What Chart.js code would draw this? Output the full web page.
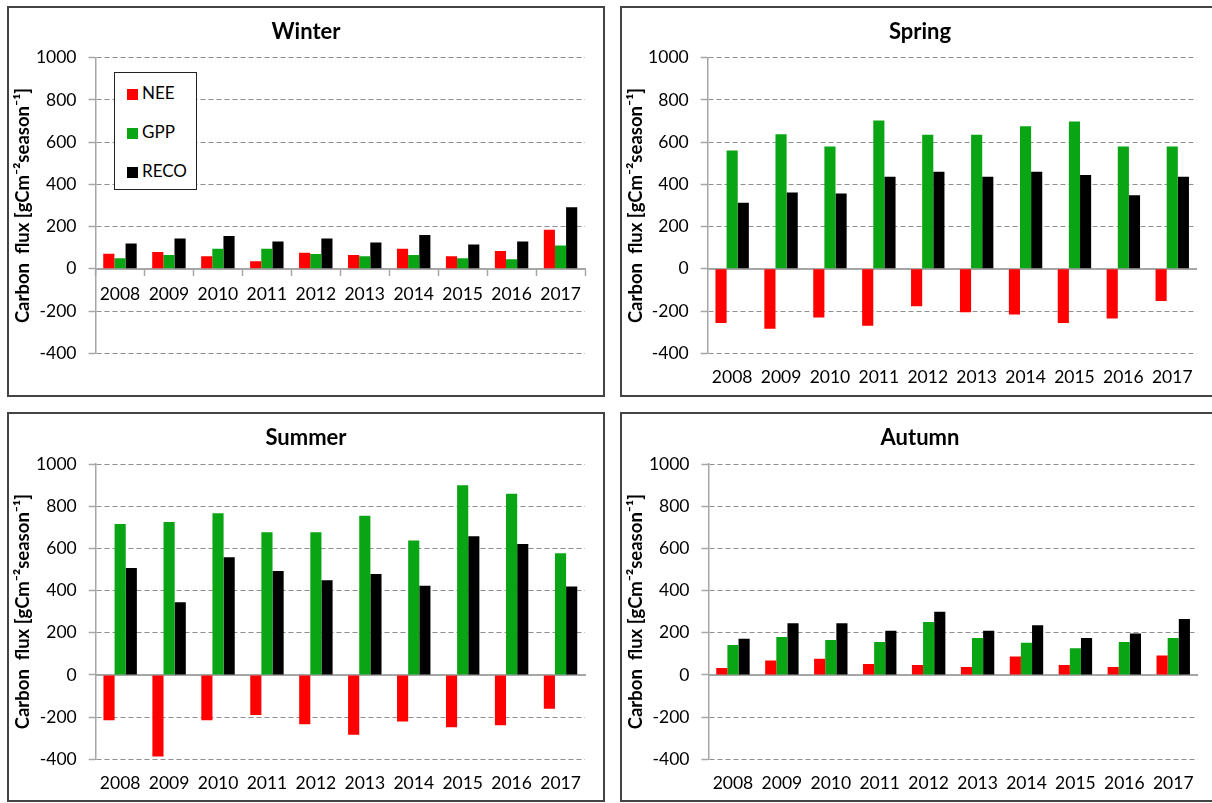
<!DOCTYPE html>
<html>
<head>
<meta charset="utf-8">
<script src="https://cdn.jsdelivr.net/npm/chart.js@4.4.0/dist/chart.umd.min.js"></script>
<style>
    body { margin: 0; width: 1212px; height: 803px; overflow: hidden; background: #fff; position: relative; font-family: Lato, sans-serif; }
    .panel { position: absolute; border: 2px solid #444; box-sizing: border-box; background: #fff; overflow: hidden; }
    .panel canvas { position: absolute; left: 0; top: 0; }
    #legend { position: absolute; left: 114px; top: 72px; width: 83px; height: 118px; border: 1.5px solid #222; box-sizing: border-box; background: #fff; }
    #legend .item { position: absolute; left: 12px; height: 20px; line-height: 20px; font-size: 17px; color: #000; white-space: nowrap; }
    #legend .sw { display: inline-block; width: 11px; height: 11px; margin-right: 4px; vertical-align: -1px; }
</style>
</head>
<body>
<div class="panel" style="left:7px;top:6px;width:598px;height:391px"><canvas id="winter" width="594" height="387"></canvas></div>
<div class="panel" style="left:620px;top:6px;width:600px;height:391px"><canvas id="spring" width="596" height="387"></canvas></div>
<div class="panel" style="left:7px;top:412px;width:598px;height:390px"><canvas id="summer" width="594" height="386"></canvas></div>
<div class="panel" style="left:620px;top:412px;width:600px;height:390px"><canvas id="autumn" width="596" height="386"></canvas></div>
<div id="legend"></div>

<script>
// 데이터
const years = ['2008', '2009', '2010', '2011', '2012', '2013', '2014', '2015', '2016', '2017'];
const seriesNames = ['NEE', 'GPP', 'RECO'];
const seriesColors = ['#ff0000', '#0aa514', '#000000'];
const yTicks = [-400, -200, 0, 200, 400, 600, 800, 1000];

const winterNEE = [71, 80, 60, 36, 76, 66, 95, 60, 85, 185];
const winterGPP = [50, 66, 95, 95, 70, 60, 66, 50, 46, 110];
const winterRECO = [120, 144, 155, 130, 144, 125, 160, 115, 130, 292];

const springNEE = [-256, -284, -231, -270, -177, -205, -216, -256, -235, -152];
const springGPP = [561, 638, 580, 703, 635, 635, 675, 698, 580, 580];
const springRECO = [313, 362, 357, 436, 460, 436, 460, 445, 348, 436];

const summerNEE = [-215, -387, -215, -190, -234, -284, -221, -248, -239, -160];
const summerGPP = [716, 725, 766, 676, 676, 755, 637, 899, 859, 577];
const summerRECO = [507, 344, 558, 493, 449, 479, 423, 657, 621, 419];

const autumnNEE = [33, 68, 77, 52, 47, 38, 87, 47, 38, 92];
const autumnGPP = [142, 180, 166, 156, 251, 175, 152, 126, 156, 175];
const autumnRECO = [171, 245, 245, 210, 300, 210, 235, 175, 196, 265];

const FONT = 'Lato, "Open Sans", sans-serif';
const AXIS_GREY = '#a6a6a6';

// 차트를 그리는 함수
function seasonChart(id, title, values, cfg) {
    const ctx = document.getElementById(id).getContext('2d');

    const datasets = values.map((vals, i) => ({
        label: seriesNames[i],
        data: vals,
        backgroundColor: seriesColors[i],
        borderWidth: 0,
        categoryPercentage: 0.683,
        barPercentage: 1.0
    }));

    const scales = {
        y: {
            min: -400,
            max: 1000,
            afterBuildTicks: scale => { scale.ticks = yTicks.map(v => ({ value: v })); },
            afterFit: scale => { scale.width = cfg.left; },
            ticks: {
                color: '#000',
                font: { family: FONT, size: 17.5 },
                padding: 12,
                callback: v => String(v)
            },
            grid: {
                color: c => (c.tick && c.tick.value === 0) ? 'transparent' : '#8f8f8f',
                lineWidth: 1,
                tickColor: AXIS_GREY,
                tickLength: 7,
                tickWidth: 1.5
            },
            border: { color: AXIS_GREY, width: 1.5, dash: [5, 3] },
            title: {
                display: true,
                text: 'Carbon  flux [gCm⁻²season⁻¹]',
                color: '#000',
                font: { family: FONT, size: 18.5, weight: 'bold' },
                padding: { top: 3, bottom: 0 }
            }
        },
        // 오른쪽 여백용 빈 축 (제목을 패널 가운데 두기 위해)
        yRight: {
            position: 'right',
            min: -400,
            max: 1000,
            afterFit: scale => { scale.width = cfg.right; },
            ticks: { display: false },
            grid: { display: false, drawTicks: false },
            border: { display: false }
        }
    };

    if (cfg.labelsAtZero) {
        // 겨울: X축이 0 위치에 있음
        scales.x = {
            position: { y: 0 },
            ticks: { color: '#000', font: { family: FONT, size: 17.5 }, padding: 9.5 },
            grid: { drawOnChartArea: false, drawTicks: true, tickLength: 6, tickColor: AXIS_GREY, tickWidth: 1.5 },
            border: { color: AXIS_GREY, width: 2 }
        };
    } else {
        scales.x = {
            position: 'bottom',
            afterFit: scale => { scale.height = cfg.bottom; },
            ticks: { color: '#000', font: { family: FONT, size: 17.5 }, padding: 14 },
            grid: { display: false, drawTicks: false },
            border: { display: false }
        };
        // 0 기준선
        scales.x2 = {
            type: 'category',
            labels: years,
            position: { y: 0 },
            ticks: { display: false },
            grid: { drawOnChartArea: false, drawTicks: false },
            border: { color: AXIS_GREY, width: 2 }
        };
    }

    return new Chart(ctx, {
        type: 'bar',
        data: { labels: years, datasets: datasets },
        options: {
            responsive: false,
            animation: false,
            layout: { padding: { left: 0, top: 0, right: 0, bottom: cfg.labelsAtZero ? cfg.bottom : 0 } },
            plugins: {
                legend: { display: false },
                tooltip: { enabled: false },
                title: {
                    display: true,
                    text: title,
                    color: '#000',
                    font: { family: FONT, size: 22, weight: 'bold' },
                    padding: { top: cfg.titleTop, bottom: cfg.titleBottom }
                }
            },
            scales: scales
        }
    });
}

const winter = seasonChart('winter', 'Winter', [winterNEE, winterGPP, winterRECO],
    { left: 86.5, right: 18, bottom: 41.7, titleTop: 10.8, titleBottom: 12.5, labelsAtZero: true });
seasonChart('spring', 'Spring', [springNEE, springGPP, springRECO],
    { left: 85.7, right: 21.3, bottom: 41.7, titleTop: 10.8, titleBottom: 12.5 });
seasonChart('summer', 'Summer', [summerNEE, summerGPP, summerRECO],
    { left: 86.7, right: 18, bottom: 40.7, titleTop: 10.8, titleBottom: 12.8 });
seasonChart('autumn', 'Autumn', [autumnNEE, autumnGPP, autumnRECO],
    { left: 86.5, right: 20.3, bottom: 40.7, titleTop: 10.8, titleBottom: 12.8 });

// 범례 (겨울 패널 안)
const legend = document.getElementById('legend');
winter.data.datasets.forEach((ds, i) => {
    const item = document.createElement('div');
    item.className = 'item';
    item.style.top = (10 + i * 39) + 'px';
    item.innerHTML = '<span class="sw" style="background:' + ds.backgroundColor + '"></span>' + ds.label;
    legend.appendChild(item);
});
</script>
</body>
</html>
